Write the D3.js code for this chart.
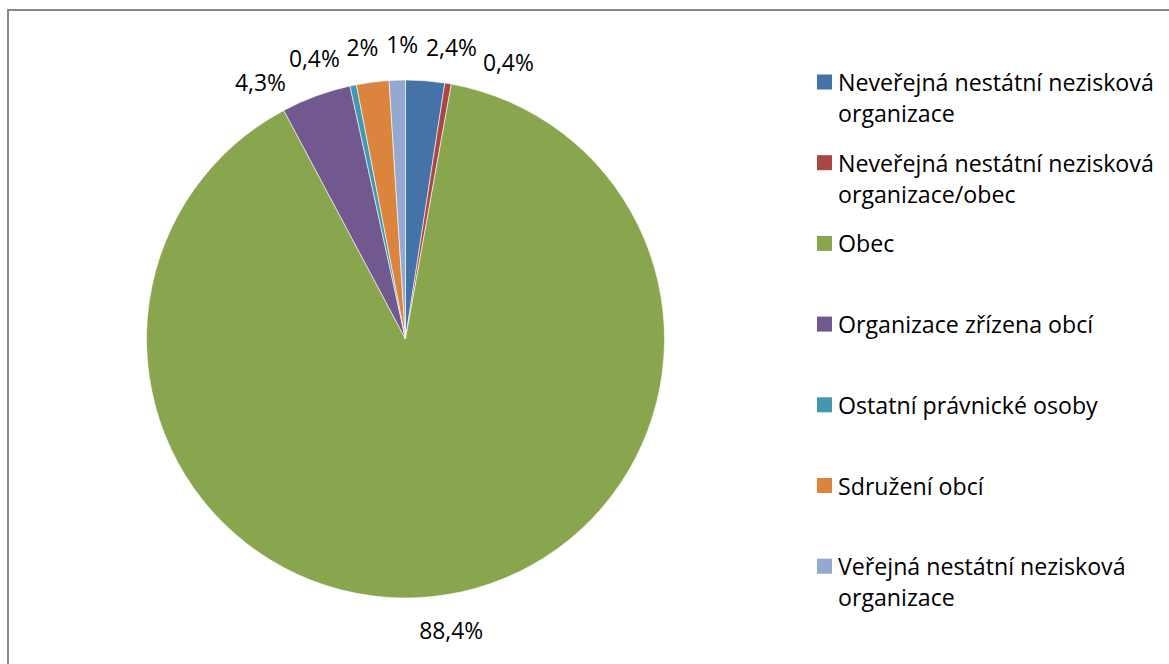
<!DOCTYPE html>
<html>
<head>
<meta charset="utf-8">
<script src="https://cdn.jsdelivr.net/npm/d3@7"></script>
<style>
  body { margin: 0; background: #fff; }
  text { font-family: "Open Sans", sans-serif; fill: #000; }
</style>
</head>
<body>
<div id="chart"></div>
<script>
// data
const categories = [
  "Neveřejná nestátní nezisková organizace",
  "Neveřejná nestátní nezisková organizace/obec",
  "Obec",
  "Organizace zřízena obcí",
  "Ostatní právnické osoby",
  "Sdružení obcí",
  "Veřejná nestátní nezisková organizace"
];
const values = [2.4, 0.4, 88.4, 4.3, 0.4, 2.0, 1.0];
const valueLabels = ["2,4%", "0,4%", "88,4%", "4,3%", "0,4%", "2%", "1%"];
// legend lines (wrapped like the original)
const legendLines = [
  ["Neveřejná nestátní nezisková", "organizace"],
  ["Neveřejná nestátní nezisková", "organizace/obec"],
  ["Obec"],
  ["Organizace zřízena obcí"],
  ["Ostatní právnické osoby"],
  ["Sdružení obcí"],
  ["Veřejná nestátní nezisková", "organizace"]
];
const colors = ["#4572A7", "#AA4643", "#89A54E", "#71588F", "#4198AF", "#DB843D", "#93A9CF"];

const W = 1169, H = 664;
const cx = 405.5, cy = 339, radius = 259;

const svg = d3.select("#chart").append("svg")
    .attr("width", W)
    .attr("height", H);

// fit font sizes to the widths seen in the original (Calibri is not installed)
function fitSize(str, target) {
  const t = svg.append("text").attr("font-size", 20).text(str);
  const w = t.node().getComputedTextLength();
  t.remove();
  return 20 * target / w;
}
const legendSize = fitSize("Neveřejná nestátní nezisková", 316);
const labelSize = fitSize("88,4%", 64);

// chart border
svg.append("rect")
    .attr("x", 8).attr("y", 10)
    .attr("width", W + 20).attr("height", H + 20)
    .attr("fill", "none")
    .attr("stroke", "#868686")
    .attr("stroke-width", 2);

const color = d3.scaleOrdinal().domain(categories).range(colors);

const pie = d3.pie()
    .value(d => d.value)
    .sort(null);

const data = categories.map((c, i) => ({name: c, value: values[i], label: valueLabels[i]}));
const arcs = pie(data);

const arc = d3.arc().innerRadius(0).outerRadius(radius);

const g = svg.append("g").attr("transform", `translate(${cx},${cy})`);

g.selectAll("path")
  .data(arcs)
  .join("path")
    .attr("d", arc)
    .attr("fill", d => color(d.data.name))
    .attr("stroke", "#fff")
    .attr("stroke-width", 0.6);

// labels outside the pie, spread apart where they collide
const labelR = radius + 36;
const labels = g.selectAll("text.lbl")
  .data(arcs)
  .join("text")
    .attr("class", "lbl")
    .attr("font-size", labelSize)
    .attr("text-anchor", "middle")
    .attr("dominant-baseline", "central")
    .text(d => d.data.label);

labels.each(function(d) {
  let a = (d.startAngle + d.endAngle) / 2;
  if (a > Math.PI) a -= 2 * Math.PI; // unwrap around the top
  d.la = a;
  d.w = this.getComputedTextLength();
});

const items = arcs.slice().sort((a, b) => a.la - b.la);
const gap = 8;
for (let it = 0; it < 300; it++) {
  for (let i = 0; i < items.length - 1; i++) {
    const p = items[i], q = items[i + 1];
    const need = ((p.w + q.w) / 2 + gap) / labelR;
    const diff = q.la - p.la;
    if (diff < need) {
      const push = (need - diff) / 2;
      p.la -= push;
      q.la += push;
    }
  }
}

labels
    .attr("x", d => labelR * Math.sin(d.la))
    .attr("y", d => -labelR * Math.cos(d.la));

// legend
const legend = svg.append("g").attr("transform", "translate(817,82)");
const rowStep = 80.7, lineStep = 31;

const rows = legend.selectAll("g")
  .data(categories)
  .join("g")
    .attr("transform", (d, i) => `translate(0,${i * rowStep})`);

rows.append("rect")
    .attr("x", 0).attr("y", -7.5)
    .attr("width", 15).attr("height", 15)
    .attr("fill", d => color(d));

rows.append("text")
    .attr("x", 21)
    .attr("font-size", legendSize)
    .attr("dominant-baseline", "central")
  .selectAll("tspan")
  .data((d, i) => legendLines[i])
  .join("tspan")
    .attr("x", 21)
    .attr("dy", (d, j) => j === 0 ? 0 : lineStep)
    .text(d => d);
</script>
</body>
</html>
